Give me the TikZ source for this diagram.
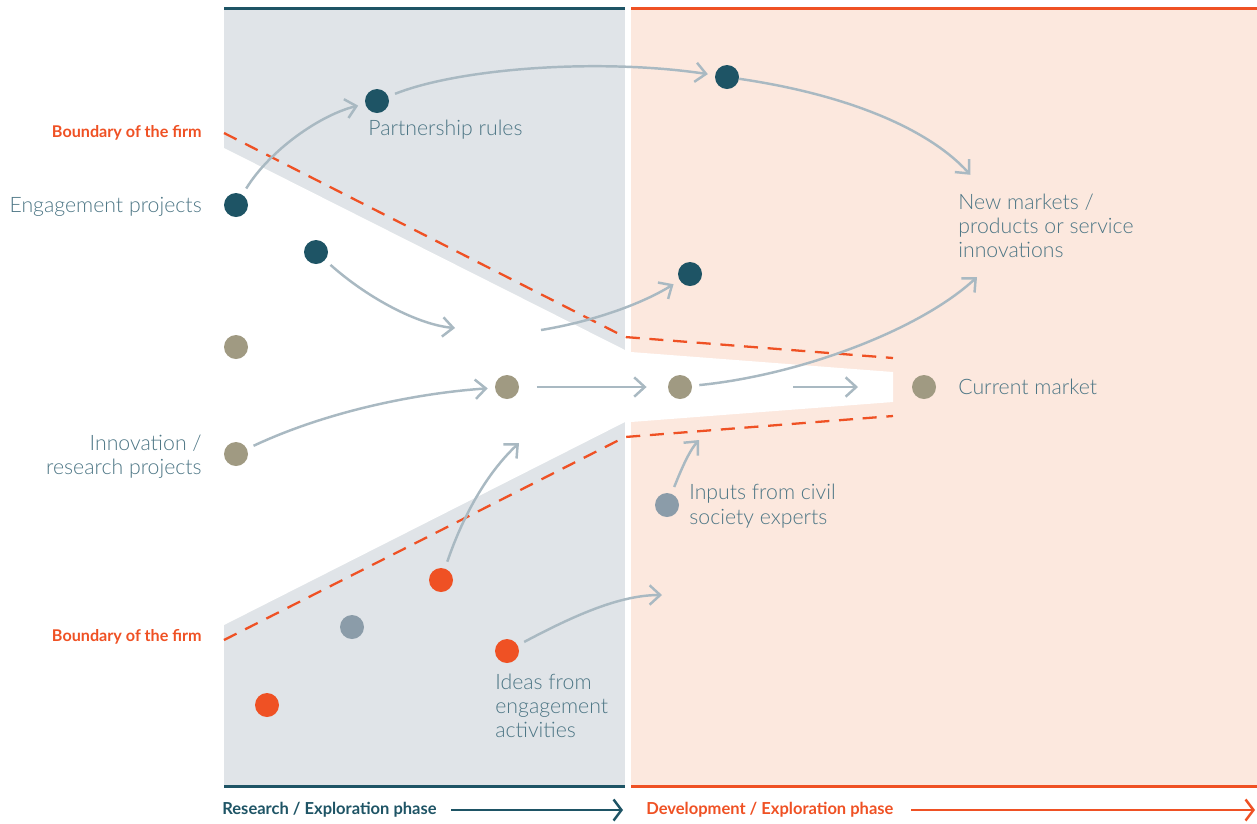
\documentclass[tikz,border=0pt]{standalone}
\usepackage{fontspec}
\setmainfont{Lato}[UprightFont={* Light},BoldFont={* Bold}]
\usetikzlibrary{arrows.meta}

\definecolor{firmteal}{HTML}{1E5465}
\definecolor{firmorange}{HTML}{EF5124}
\definecolor{labelteal}{HTML}{4D7685}
\definecolor{researchbg}{HTML}{E0E4E8}
\definecolor{developbg}{HTML}{FCE8DE}
\definecolor{flowgrey}{HTML}{A9B9C2}
\definecolor{tan}{HTML}{A09A82}
\definecolor{bluegrey}{HTML}{8B9CA9}

\begin{document}
\begin{tikzpicture}[x=0.02cm, y=-0.02cm,
	dot/.style={circle, fill=#1, minimum size=0.48cm, inner sep=0pt},
	flow/.style={draw=flowgrey, line width=1.4pt, -{Straight Barb[length=6pt,width=11pt]}, shorten <=4pt, shorten >=4pt},
	lbl/.style={font=\fontsize{12.1}{13.8}\selectfont, text=labelteal, inner sep=0pt},
	firm/.style={font=\fontsize{9.2}{11}\selectfont\bfseries, text=firmorange, inner sep=0pt, anchor=east},
	phase/.style={font=\fontsize{9.4}{11}\selectfont\bfseries, inner sep=0pt, anchor=west},
	boundary/.style={draw=firmorange, line width=1.3pt, dash pattern=on 8pt off 5.5pt}]
	\useasboundingbox (0,0) rectangle (1257,823);

	% phases
	\fill[researchbg] (224,8) rectangle (625,787);
	\fill[developbg] (631,8) rectangle (1257,787);
	\fill[white] (224,148) -- (625,350) -- (625,422) -- (224,625) -- cycle;
	\fill[white] (631,352) -- (893,372) -- (893,402) -- (631,422) -- cycle;
	\draw[firmteal, line width=1.7pt] (224,8) -- (625,8);
	\draw[firmteal, line width=1.7pt] (224,786) -- (625,786);
	\draw[firmorange, line width=1.7pt] (631,8) -- (1257,8);
	\draw[firmorange, line width=1.7pt] (631,786) -- (1257,786);

	% boundary of the firm
	\node[firm] (btop) at (202,133) {Boundary of the firm};
	\node[firm] (bbot) at (202,637) {Boundary of the firm};
	\draw[boundary] (224,133) -- (625,337) -- (893,358);
	\draw[boundary] (224,640) -- (625,437) -- (893,416);

	% dots
	\node[dot=firmteal] (eng1) at (236,205) {};
	\node[dot=firmteal] (eng2) at (316,252) {};
	\node[dot=firmteal] (partner) at (377,101) {};
	\node[dot=firmteal] (new1) at (727,77) {};
	\node[dot=firmteal] (new2) at (690,274) {};
	\node[dot=tan] (inno1) at (236,347) {};
	\node[dot=tan] (inno2) at (236,454) {};
	\node[dot=tan] (mid1) at (507,387) {};
	\node[dot=tan] (mid2) at (680,387) {};
	\node[dot=tan] (market) at (924,387) {};
	\node[dot=bluegrey] (civil1) at (352,627) {};
	\node[dot=bluegrey] (civil2) at (667,505) {};
	\node[dot=firmorange] (idea1) at (441,580) {};
	\node[dot=firmorange] (idea2) at (507,651) {};
	\node[dot=firmorange] (idea3) at (267,705) {};

	% labels
	\node[lbl, anchor=east] (englbl) at (202,207) {Engagement projects};
	\node[lbl, anchor=east, align=right] (innolbl) at (202,457) {Innovation /\\research projects};
	\node[lbl, anchor=west] (partnerlbl) at (368,130) {Partnership rules};
	\node[lbl, anchor=west, align=left] (newlbl) at (958,226) {New markets /\\products or service\\innovations};
	\node[lbl, anchor=west] (marketlbl) at (958,387) {Current market};
	\node[lbl, anchor=west, align=left] (civillbl) at (689,506) {Inputs from civil\\society experts};
	\node[lbl, anchor=west, align=left] (idealbl) at (495,706) {Ideas from\\engagement\\activities};

	% free ends
	\coordinate (a4) at (455,328);
	\coordinate (a5) at (541,330);
	\coordinate (a3) at (975,180);
	\coordinate (a8) at (977,277);
	\coordinate (a9s) at (793,387);
	\coordinate (a9e) at (858,387);
	\coordinate (a10) at (519,443);
	\coordinate (a11) at (662,595);
	\coordinate (a12) at (699,440);

	% flows
	\draw[flow] (eng1) .. controls (270,150) and (320,115) .. (partner);
	\draw[flow] (partner) .. controls (460,68) and (600,58) .. (new1);
	\draw[flow, shorten <=0pt] (new1) .. controls (850,95) and (930,130) .. (a3);
	\draw[flow, shorten >=0pt] (eng2) .. controls (370,300) and (420,325) .. (a4);
	\draw[flow, shorten <=0pt] (a5) .. controls (590,322) and (640,305) .. (new2);
	\draw[flow] (inno2) .. controls (330,410) and (420,393) .. (mid1);
	\draw[flow, shorten <=10pt, shorten >=12pt] (mid1) -- (mid2);
	\draw[flow, shorten >=0pt] (mid2) .. controls (800,375) and (920,330) .. (a8);
	\draw[flow, shorten <=0pt, shorten >=0pt] (a9s) -- (a9e);
	\draw[flow, shorten >=0pt] (idea1) .. controls (465,510) and (490,470) .. (a10);
	\draw[flow, shorten >=0pt] (idea2) .. controls (575,615) and (620,595) .. (a11);
	\draw[flow, shorten >=0pt] (civil2) .. controls (683,465) and (690,450) .. (a12);

	% phase arrows
	\node[phase, text=firmteal] (research) at (222,810) {Research / Exploration phase};
	\node[phase, text=firmorange] (develop) at (646,810) {Development / Exploration phase};
	\coordinate (resend) at (623,810);
	\coordinate (devend) at (1255,810);
	\draw[firmteal, line width=1.4pt, shorten <=8pt, -{Straight Barb[length=4.5pt,width=12pt]}] (research) -- (resend);
	\draw[firmorange, line width=1.4pt, shorten <=10pt, -{Straight Barb[length=4.5pt,width=12pt]}] (develop) -- (devend);
\end{tikzpicture}
\end{document}
